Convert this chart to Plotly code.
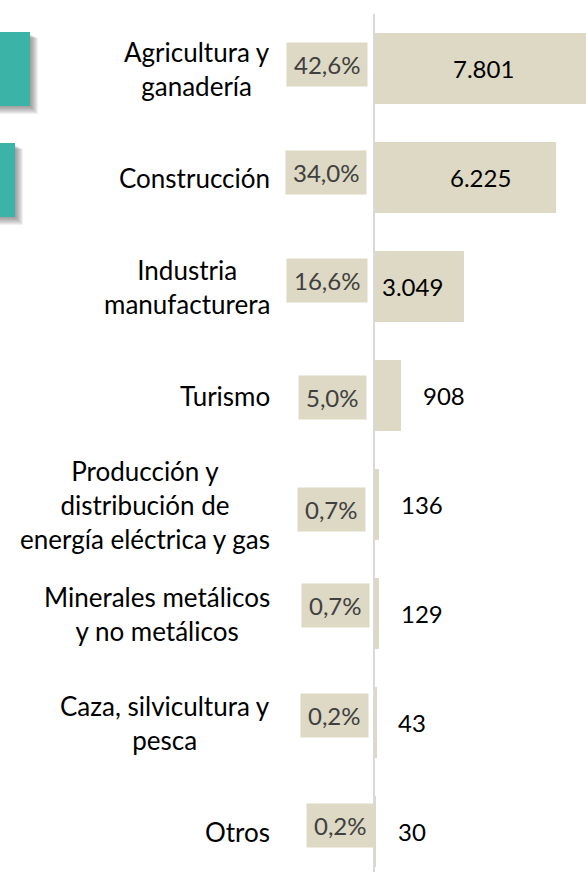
import plotly.graph_objects as go

# Sector data
sectores = [
    "Agricultura y<br>ganadería",
    "Construcción",
    "Industria<br>manufacturera",
    "Turismo",
    "Producción y<br>distribución de<br>energía eléctrica y gas",
    "Minerales metálicos<br>y no metálicos",
    "Caza, silvicultura y<br>pesca",
    "Otros",
]
valores = [7801, 6225, 3049, 908, 136, 129, 43, 30]
valores_txt = ["7.801", "6.225", "3.049", "908", "136", "129", "43", "30"]
porcentajes = ["42,6%", "34,0%", "16,6%", "5,0%", "0,7%", "0,7%", "0,2%", "0,2%"]

# Layout helpers (pixel offsets relative to the axis line)
W, H = 586, 872
ML, MT = 375, 14
PLOT_W, PLOT_H = W - ML, H - MT
X_MAX = 6225 * PLOT_W / 181.0
valor_dx = [108, 105, 37, 69, 47, 47, 37, 37]
pct_dy = [-4, -5, -6, 2, 5, -8, -7, -6]
pct_dx = [-7, -8, -7, -8, -9, -5, -6, 0]

BEIGE = "#DDD9C4"
TEAL = "#3BB4A7"
FONT = "Lato"

fig = go.Figure()
fig.add_trace(go.Bar(
    x=valores,
    y=list(range(len(valores))),
    orientation="h",
    width=0.66,
    marker=dict(color=BEIGE, line=dict(width=0)),
    hoverinfo="skip",
))

ann = []
for i, (cat, vt, pt) in enumerate(zip(sectores, valores_txt, porcentajes)):
    ann.append(dict(
        xref="paper", yref="y", x=0, y=i, xanchor="right", yanchor="middle",
        xshift=272 - ML, text=cat, showarrow=False, align="center",
        font=dict(family=FONT, size=26, color="#000000"),
    ))
    ann.append(dict(
        xref="paper", yref="y", x=0, y=i, xanchor="right", yanchor="middle",
        xshift=pct_dx[i], yshift=-pct_dy[i], text=pt, showarrow=False,
        bgcolor=BEIGE, borderpad=7,
        font=dict(family=FONT, size=24, color="#404040"),
    ))
    ann.append(dict(
        xref="paper", yref="y", x=0, y=i, xanchor="center", yanchor="middle",
        xshift=valor_dx[i], text=vt, showarrow=False,
        font=dict(family=FONT, size=24, color="#000000"),
    ))


def px_x(p):
    return (p - ML) / PLOT_W


def px_y(p):
    return (H - p) / PLOT_H


shapes = []
# Teal tabs with a soft drop shadow
for (x1, y0, y1) in [(30, 32, 106), (15, 143, 217)]:
    for k in range(1, 9):
        shapes.append(dict(
            type="rect", xref="paper", yref="paper",
            x0=px_x(0), x1=px_x(x1 + k), y0=px_y(y1 + k), y1=px_y(y0 + 2 + k * 0.5),
            fillcolor="rgba(90,90,90,0.09)", line=dict(width=0), layer="above",
        ))
    shapes.append(dict(
        type="rect", xref="paper", yref="paper",
        x0=px_x(0), x1=px_x(x1), y0=px_y(y1), y1=px_y(y0),
        fillcolor=TEAL, line=dict(width=0), layer="above",
    ))

fig.update_layout(
    width=W, height=H,
    margin=dict(l=ML, r=0, t=MT, b=0, pad=0),
    paper_bgcolor="white", plot_bgcolor="white",
    showlegend=False,
    bargap=0,
    xaxis=dict(range=[0, X_MAX], visible=False, fixedrange=True),
    yaxis=dict(
        range=[-0.5 + PLOT_H / 109.0, -0.5],
        showticklabels=False, showgrid=False, zeroline=False, ticks="",
        showline=True, linecolor="#D9D9D9", linewidth=2, fixedrange=True,
    ),
    annotations=ann,
    shapes=shapes,
)

fig.write_html("out.html", config={"displayModeBar": False})
